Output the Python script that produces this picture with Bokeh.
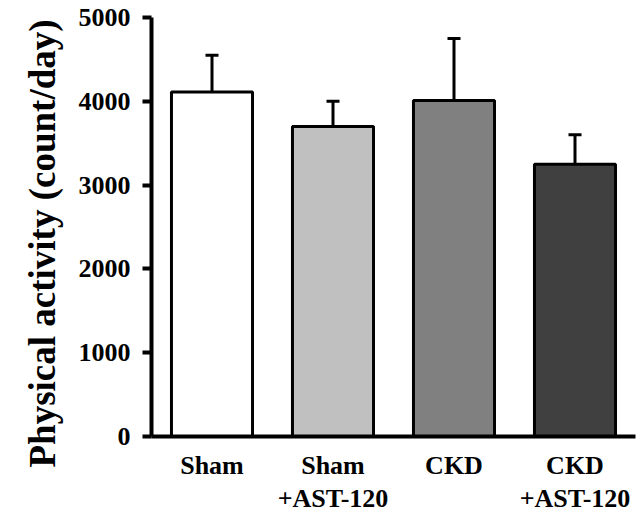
from bokeh.plotting import figure
from bokeh.models import ColumnDataSource, Range1d, FactorRange, Whisker, FixedTicker, Title
from bokeh.embed import file_html
from bokeh.resources import INLINE

groups = ["Sham", "Sham\n+AST-120", "CKD", "CKD\n+AST-120"]
means = [4110, 3700, 4010, 3250]
upper = [4550, 4000, 4750, 3600]
colors = ["#ffffff", "#c0c0c0", "#808080", "#404040"]
y_ticks = [0, 1000, 2000, 3000, 4000, 5000]
y_title = "Physical activity (count/day)"

src = ColumnDataSource(dict(x=groups, top=means, upper=upper, color=colors))

p = figure(width=639, height=515, x_range=FactorRange(*groups, range_padding=0),
           y_range=Range1d(0, 5000), output_backend="svg", toolbar_location=None,
           min_border_left=151, min_border_top=17, min_border_right=4, min_border_bottom=0)

p.vbar(x="x", top="top", width=0.67, source=src, fill_color="color",
       line_color="black", line_width=3)

w = Whisker(base="x", upper="upper", lower="top", source=src, level="underlay",
            line_color="black", line_width=3, lower_head=None)
w.upper_head.size = 13
w.upper_head.line_width = 3
w.upper_head.line_color = "black"
p.add_layout(w)

p.xgrid.visible = False
p.ygrid.visible = False
p.outline_line_color = None

font = "Liberation Serif"
for ax in (p.xaxis[0], p.yaxis[0]):
    ax.axis_line_width = 4
    ax.axis_line_color = "black"
    ax.major_label_text_font = font
    ax.major_label_text_font_style = "bold"
    ax.major_label_text_font_size = "26px"
    ax.major_label_text_color = "black"
    ax.minor_tick_line_color = None

p.xaxis.major_tick_line_color = None
p.xaxis.major_tick_out = 0
p.xaxis.major_tick_in = 0
p.xaxis.major_label_standoff = 14
p.xaxis.major_label_text_line_height = 1.15

p.yaxis.ticker = FixedTicker(ticks=y_ticks)
p.yaxis.major_tick_line_width = 4
p.yaxis.major_tick_line_color = "black"
p.yaxis.major_tick_out = 9
p.yaxis.major_tick_in = 0
p.yaxis.major_label_standoff = 12

t = Title(text=y_title, align="left", offset=-31, standoff=22, vertical_align="top",
          text_font=font, text_font_style="bold", text_font_size="37px",
          text_color="black")
p.add_layout(t, "left")

open("out.html", "w").write(file_html(p, INLINE))
